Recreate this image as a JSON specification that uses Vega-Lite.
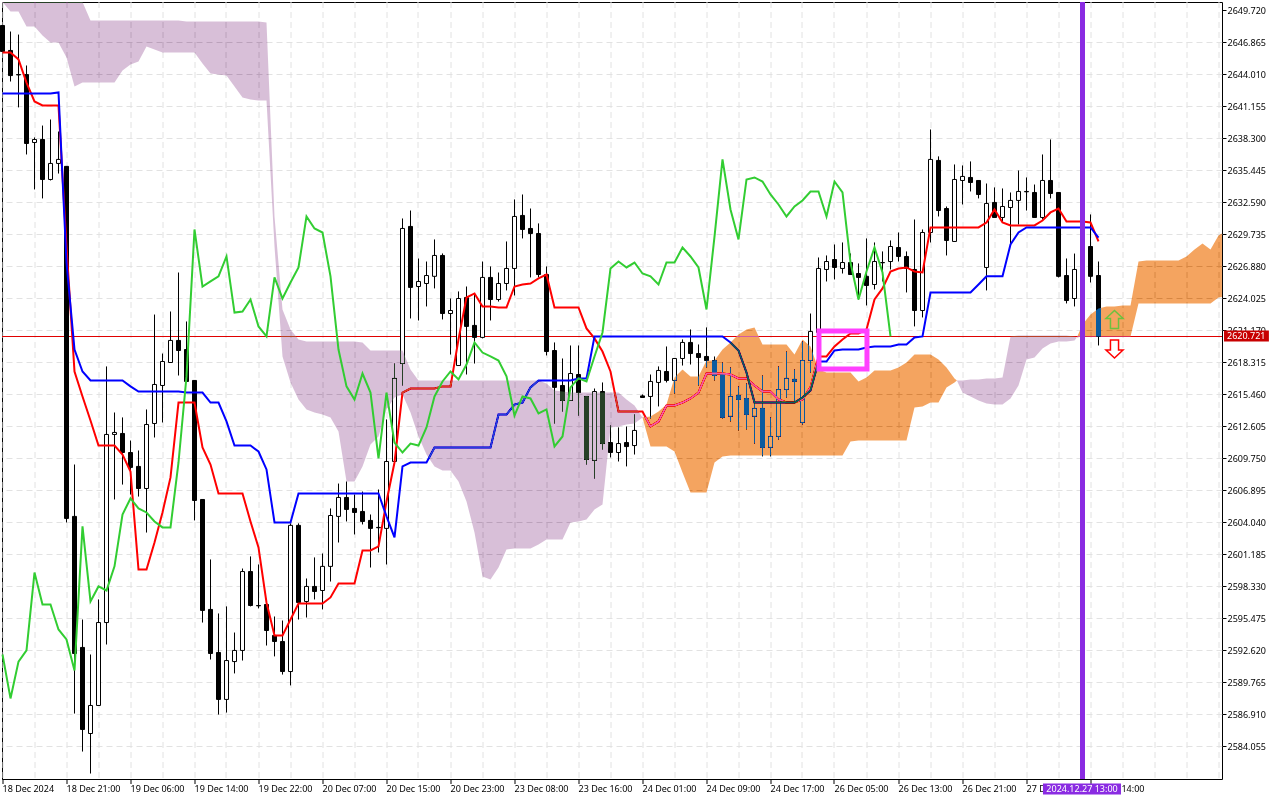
{"$schema":"https://vega.github.io/schema/vega-lite/v6.json","width":1220,"height":777,"autosize":{"type":"none"},"padding":{"left":2,"top":2,"right":58,"bottom":21},"background":"#ffffff",
"config":{"view":{"stroke":"#000000","strokeWidth":1},"axis":{"labelFont":"Noto Sans","labelFontSize":9,"labelColor":"#000000","title":null}},
"datasets":{
"bars":[
{"i":0,"o":2648.34,"h":2648.34,"l":2646.02,"c":2646.02,"t":2645.93,"k":2642.27,"g":2592.22},
{"i":1,"o":2646.11,"h":2647.80,"l":2643.34,"c":2643.87,"t":2645.93,"k":2642.27,"g":2588.30},
{"i":2,"o":2643.96,"h":2647.53,"l":2641.03,"c":2643.93,"t":2645.31,"k":2642.27,"g":2591.59},
{"i":3,"o":2643.96,"h":2644.77,"l":2636.83,"c":2637.81,"t":2643.25,"k":2642.27,"g":2592.58},
{"i":4,"o":2637.90,"h":2638.35,"l":2633.71,"c":2638.17,"t":2641.56,"k":2642.27,"g":2599.53},
{"i":5,"o":2638.17,"h":2639.41,"l":2632.91,"c":2634.60,"t":2641.20,"k":2642.27,"g":2596.68},
{"i":6,"o":2634.60,"h":2639.95,"l":2634.51,"c":2636.03,"t":2641.20,"k":2642.27,"g":2596.68},
{"i":7,"o":2636.03,"h":2638.88,"l":2635.13,"c":2636.39,"t":2641.20,"k":2642.36,"g":2594.45},
{"i":8,"o":2635.77,"h":2635.77,"l":2604.00,"c":2604.36,"t":2628.63,"k":2627.19,"g":2593.56},
{"i":9,"o":2604.54,"h":2609.17,"l":2586.95,"c":2592.31,"t":2617.47,"k":2619.43,"g":2590.79},
{"i":10,"o":2592.85,"h":2595.34,"l":2583.56,"c":2585.53,"t":2615.24,"k":2617.47,"g":2603.65},
{"i":11,"o":2585.17,"h":2592.22,"l":2581.60,"c":2587.67,"t":2613.10,"k":2616.67,"g":2596.95},
{"i":12,"o":2587.67,"h":2597.13,"l":2587.67,"c":2595.07,"t":2610.86,"k":2616.67,"g":2598.29},
{"i":13,"o":2595.07,"h":2617.92,"l":2593.11,"c":2611.85,"t":2610.86,"k":2616.67,"g":2597.93},
{"i":14,"o":2611.85,"h":2613.81,"l":2606.05,"c":2612.03,"t":2610.86,"k":2616.67,"g":2600.08},
{"i":15,"o":2611.94,"h":2613.37,"l":2607.38,"c":2610.24,"t":2610.06,"k":2616.67,"g":2604.71},
{"i":16,"o":2610.24,"h":2611.31,"l":2606.49,"c":2608.91,"t":2608.55,"k":2616.14,"g":2606.14},
{"i":17,"o":2609.00,"h":2610.42,"l":2606.31,"c":2607.03,"t":2599.80,"k":2615.68,"g":2605.25},
{"i":18,"o":2607.03,"h":2614.08,"l":2603.10,"c":2612.74,"t":2599.80,"k":2615.68,"g":2604.89},
{"i":19,"o":2612.83,"h":2622.55,"l":2611.58,"c":2616.31,"t":2602.21,"k":2615.68,"g":2604.09},
{"i":20,"o":2616.22,"h":2619.07,"l":2612.92,"c":2618.36,"t":2604.89,"k":2615.68,"g":2603.56},
{"i":21,"o":2618.27,"h":2622.82,"l":2618.27,"c":2620.24,"t":2608.02,"k":2615.68,"g":2603.56},
{"i":22,"o":2620.24,"h":2626.30,"l":2617.11,"c":2619.34,"t":2614.70,"k":2615.68,"g":2609.35},
{"i":23,"o":2619.43,"h":2621.93,"l":2616.58,"c":2616.58,"t":2614.70,"k":2615.59,"g":2617.03},
{"i":24,"o":2616.67,"h":2616.67,"l":2604.18,"c":2605.96,"t":2614.70,"k":2615.59,"g":2630.14},
{"i":25,"o":2606.05,"h":2606.05,"l":2595.07,"c":2596.15,"t":2610.69,"k":2615.59,"g":2625.05},
{"i":26,"o":2596.24,"h":2600.70,"l":2591.77,"c":2592.31,"t":2609.17,"k":2614.70,"g":2625.50},
{"i":27,"o":2592.40,"h":2595.88,"l":2586.86,"c":2588.21,"t":2606.58,"k":2614.70,"g":2625.96},
{"i":28,"o":2588.21,"h":2596.51,"l":2587.04,"c":2591.68,"t":2606.58,"k":2613.01,"g":2627.73},
{"i":29,"o":2591.59,"h":2594.18,"l":2590.53,"c":2592.58,"t":2606.58,"k":2610.86,"g":2622.73},
{"i":30,"o":2592.58,"h":2599.89,"l":2591.68,"c":2599.62,"t":2606.58,"k":2610.86,"g":2622.82},
{"i":31,"o":2599.62,"h":2600.97,"l":2596.51,"c":2596.59,"t":2604.09,"k":2610.86,"g":2623.89},
{"i":32,"o":2596.59,"h":2600.25,"l":2596.33,"c":2596.56,"t":2601.77,"k":2610.33,"g":2621.49},
{"i":33,"o":2596.68,"h":2596.68,"l":2593.02,"c":2594.36,"t":2596.86,"k":2608.73,"g":2620.60},
{"i":34,"o":2593.92,"h":2595.61,"l":2592.05,"c":2593.38,"t":2593.92,"k":2604.00,"g":2625.86},
{"i":35,"o":2593.38,"h":2595.25,"l":2590.43,"c":2590.70,"t":2593.92,"k":2604.00,"g":2623.98},
{"i":36,"o":2590.70,"h":2603.92,"l":2589.46,"c":2603.74,"t":2595.34,"k":2604.00,"g":2625.41},
{"i":37,"o":2603.74,"h":2603.92,"l":2595.34,"c":2596.86,"t":2596.77,"k":2606.58,"g":2626.75},
{"i":38,"o":2596.95,"h":2599.00,"l":2595.52,"c":2598.29,"t":2596.77,"k":2606.58,"g":2631.30},
{"i":39,"o":2598.29,"h":2600.88,"l":2597.13,"c":2597.84,"t":2596.77,"k":2606.58,"g":2630.23},
{"i":40,"o":2597.93,"h":2601.23,"l":2596.24,"c":2600.08,"t":2596.77,"k":2606.58,"g":2629.87},
{"i":41,"o":2600.08,"h":2605.25,"l":2598.73,"c":2604.62,"t":2597.31,"k":2606.58,"g":2625.96},
{"i":42,"o":2604.54,"h":2607.47,"l":2602.21,"c":2606.23,"t":2598.55,"k":2606.58,"g":2619.43},
{"i":43,"o":2606.23,"h":2607.65,"l":2604.09,"c":2605.16,"t":2598.55,"k":2606.58,"g":2616.14},
{"i":44,"o":2605.25,"h":2606.49,"l":2602.93,"c":2604.89,"t":2598.55,"k":2606.58,"g":2614.97},
{"i":45,"o":2604.98,"h":2606.76,"l":2603.82,"c":2604.09,"t":2601.50,"k":2606.58,"g":2617.29},
{"i":46,"o":2604.18,"h":2604.71,"l":2599.98,"c":2603.47,"t":2601.50,"k":2606.58,"g":2615.59},
{"i":47,"o":2603.56,"h":2606.94,"l":2601.32,"c":2603.53,"t":2601.86,"k":2606.58,"g":2609.71},
{"i":48,"o":2603.47,"h":2613.19,"l":2600.25,"c":2609.44,"t":2605.87,"k":2604.54,"g":2615.59},
{"i":49,"o":2609.44,"h":2618.18,"l":2609.62,"c":2616.85,"t":2609.35,"k":2602.66,"g":2611.13},
{"i":50,"o":2618.18,"h":2631.12,"l":2616.22,"c":2630.23,"t":2615.59,"k":2609.00,"g":2610.24},
{"i":51,"o":2630.41,"h":2631.83,"l":2622.20,"c":2624.97,"t":2615.95,"k":2609.35,"g":2611.04},
{"i":52,"o":2625.05,"h":2627.55,"l":2622.02,"c":2625.50,"t":2615.95,"k":2609.35,"g":2610.86},
{"i":53,"o":2625.32,"h":2627.28,"l":2623.27,"c":2626.03,"t":2615.95,"k":2609.35,"g":2612.48},
{"i":54,"o":2625.96,"h":2629.25,"l":2624.88,"c":2627.82,"t":2615.95,"k":2610.69,"g":2615.24},
{"i":55,"o":2627.82,"h":2628.00,"l":2622.11,"c":2622.64,"t":2616.14,"k":2610.69,"g":2616.58},
{"i":56,"o":2622.64,"h":2623.98,"l":2618.98,"c":2622.91,"t":2616.14,"k":2610.69,"g":2617.47},
{"i":57,"o":2618.00,"h":2624.61,"l":2618.00,"c":2623.98,"t":2620.33,"k":2610.69,"g":2616.76},
{"i":58,"o":2624.07,"h":2625.05,"l":2617.20,"c":2621.49,"t":2624.07,"k":2610.69,"g":2618.09},
{"i":59,"o":2621.58,"h":2624.34,"l":2618.18,"c":2620.51,"t":2624.43,"k":2610.69,"g":2620.06},
{"i":60,"o":2620.51,"h":2627.28,"l":2620.42,"c":2625.86,"t":2623.27,"k":2610.69,"g":2619.16},
{"i":61,"o":2625.86,"h":2626.84,"l":2622.02,"c":2623.89,"t":2623.27,"k":2610.69,"g":2618.81},
{"i":62,"o":2623.89,"h":2626.30,"l":2623.71,"c":2625.32,"t":2623.18,"k":2613.63,"g":2618.45},
{"i":63,"o":2625.32,"h":2629.07,"l":2624.70,"c":2626.66,"t":2623.18,"k":2613.63,"g":2617.03},
{"i":64,"o":2626.66,"h":2632.82,"l":2624.25,"c":2631.30,"t":2625.05,"k":2614.52,"g":2613.54},
{"i":65,"o":2631.39,"h":2633.26,"l":2629.34,"c":2630.14,"t":2625.23,"k":2614.70,"g":2615.24},
{"i":66,"o":2630.23,"h":2632.01,"l":2625.86,"c":2629.78,"t":2625.32,"k":2616.05,"g":2615.06},
{"i":67,"o":2629.78,"h":2630.68,"l":2625.86,"c":2626.12,"t":2625.77,"k":2616.67,"g":2613.72},
{"i":68,"o":2626.12,"h":2626.84,"l":2618.90,"c":2619.25,"t":2626.12,"k":2616.67,"g":2614.08},
{"i":69,"o":2619.34,"h":2620.06,"l":2612.83,"c":2616.05,"t":2623.18,"k":2616.67,"g":2610.78},
{"i":70,"o":2616.22,"h":2618.63,"l":2613.90,"c":2614.88,"t":2623.18,"k":2616.67,"g":2611.67},
{"i":71,"o":2614.88,"h":2619.79,"l":2614.88,"c":2617.29,"t":2623.18,"k":2616.67,"g":2616.05},
{"i":72,"o":2617.20,"h":2619.79,"l":2613.54,"c":2615.59,"t":2623.18,"k":2616.85,"g":2616.85},
{"i":73,"o":2615.24,"h":2615.24,"l":2609.17,"c":2609.62,"t":2621.31,"k":2616.85,"g":2616.58},
{"i":74,"o":2609.53,"h":2615.95,"l":2607.92,"c":2615.68,"t":2620.42,"k":2620.60,"g":2618.81},
{"i":75,"o":2615.68,"h":2616.49,"l":2610.51,"c":2611.04,"t":2619.25,"k":2620.60,"g":2620.95},
{"i":76,"o":2611.13,"h":2612.65,"l":2609.80,"c":2610.24,"t":2617.47,"k":2620.60,"g":2626.66},
{"i":77,"o":2610.24,"h":2612.48,"l":2609.44,"c":2611.04,"t":2613.90,"k":2620.60,"g":2627.28},
{"i":78,"o":2611.13,"h":2612.56,"l":2609.00,"c":2610.77,"t":2613.90,"k":2620.60,"g":2626.75},
{"i":79,"o":2610.86,"h":2613.63,"l":2610.06,"c":2612.21,"t":2613.90,"k":2620.60,"g":2627.19},
{"i":80,"o":2615.29,"h":2615.42,"l":2615.15,"c":2615.15,"t":2613.90,"k":2620.60,"g":2626.21},
{"i":81,"o":2615.24,"h":2617.20,"l":2613.28,"c":2616.58,"t":2612.57,"k":2620.60,"g":2625.96},
{"i":82,"o":2616.49,"h":2617.92,"l":2614.35,"c":2617.56,"t":2613.01,"k":2620.60,"g":2625.23},
{"i":83,"o":2617.47,"h":2619.70,"l":2616.49,"c":2616.67,"t":2614.43,"k":2620.60,"g":2627.19},
{"i":84,"o":2616.67,"h":2618.63,"l":2615.51,"c":2618.63,"t":2614.43,"k":2620.60,"g":2627.19},
{"i":85,"o":2618.63,"h":2620.33,"l":2618.00,"c":2620.06,"t":2614.70,"k":2620.60,"g":2628.53},
{"i":86,"o":2620.06,"h":2621.22,"l":2618.09,"c":2619.07,"t":2615.06,"k":2620.60,"g":2627.73},
{"i":87,"o":2619.07,"h":2619.88,"l":2616.22,"c":2618.72,"t":2615.59,"k":2620.60,"g":2626.75},
{"i":88,"o":2618.81,"h":2621.40,"l":2617.83,"c":2618.45,"t":2617.29,"k":2620.60,"g":2623.00},
{"i":89,"o":2618.45,"h":2618.81,"l":2616.67,"c":2617.11,"t":2617.29,"k":2620.60,"g":2629.51},
{"i":90,"o":2617.20,"h":2618.27,"l":2613.28,"c":2613.37,"t":2617.29,"k":2620.60,"g":2636.39},
{"i":91,"o":2613.46,"h":2617.83,"l":2613.01,"c":2615.24,"t":2617.20,"k":2620.06,"g":2631.92},
{"i":92,"o":2615.33,"h":2616.14,"l":2612.21,"c":2614.97,"t":2616.85,"k":2619.34,"g":2629.25},
{"i":93,"o":2615.06,"h":2616.40,"l":2612.30,"c":2613.63,"t":2616.85,"k":2617.38,"g":2634.60},
{"i":94,"o":2613.46,"h":2614.70,"l":2611.04,"c":2614.17,"t":2616.22,"k":2614.70,"g":2634.78},
{"i":95,"o":2614.17,"h":2617.11,"l":2609.89,"c":2610.69,"t":2615.68,"k":2614.70,"g":2634.42},
{"i":96,"o":2610.69,"h":2613.37,"l":2609.89,"c":2611.67,"t":2615.68,"k":2614.70,"g":2633.26},
{"i":97,"o":2611.67,"h":2617.92,"l":2611.40,"c":2615.86,"t":2614.97,"k":2614.70,"g":2632.37},
{"i":98,"o":2615.86,"h":2619.25,"l":2615.15,"c":2616.85,"t":2614.70,"k":2614.70,"g":2631.30},
{"i":99,"o":2616.76,"h":2617.65,"l":2614.70,"c":2616.58,"t":2614.70,"k":2614.70,"g":2632.19},
{"i":100,"o":2612.92,"h":2620.15,"l":2612.74,"c":2618.45,"t":2614.97,"k":2615.15,"g":2632.73},
{"i":101,"o":2618.45,"h":2622.64,"l":2617.38,"c":2621.04,"t":2616.05,"k":2615.77,"g":2633.53},
{"i":102,"o":2620.95,"h":2627.64,"l":2620.95,"c":2626.66,"t":2618.81,"k":2618.36,"g":2633.53},
{"i":103,"o":2626.57,"h":2627.82,"l":2625.50,"c":2627.28,"t":2618.81,"k":2618.36,"g":2631.30},
{"i":104,"o":2627.46,"h":2628.80,"l":2625.68,"c":2626.75,"t":2619.70,"k":2619.34,"g":2634.42},
{"i":105,"o":2626.66,"h":2628.98,"l":2626.21,"c":2627.19,"t":2620.33,"k":2619.43,"g":2633.44},
{"i":106,"o":2627.19,"h":2628.00,"l":2626.12,"c":2626.12,"t":2620.86,"k":2619.43,"g":2627.19},
{"i":107,"o":2626.21,"h":2627.11,"l":2623.89,"c":2625.86,"t":2620.86,"k":2619.43,"g":2623.89},
{"i":108,"o":2625.96,"h":2629.34,"l":2623.36,"c":2625.14,"t":2621.22,"k":2619.61,"g":2626.39},
{"i":109,"o":2625.23,"h":2628.98,"l":2624.79,"c":2627.28,"t":2623.89,"k":2619.70,"g":2628.53},
{"i":110,"o":2627.19,"h":2628.18,"l":2625.50,"c":2627.17,"t":2624.88,"k":2619.70,"g":2626.30},
{"i":111,"o":2627.28,"h":2629.16,"l":2626.57,"c":2628.62,"t":2626.39,"k":2619.70,"g":2620.60},
{"i":112,"o":2628.53,"h":2629.87,"l":2627.28,"c":2627.73,"t":2626.66,"k":2619.88},
{"i":113,"o":2627.73,"h":2628.18,"l":2624.52,"c":2626.66,"t":2626.75,"k":2619.88},
{"i":114,"o":2626.57,"h":2631.03,"l":2621.49,"c":2622.91,"t":2626.39,"k":2620.51},
{"i":115,"o":2622.91,"h":2630.14,"l":2622.29,"c":2629.87,"t":2626.30,"k":2620.60},
{"i":116,"o":2629.87,"h":2639.06,"l":2628.98,"c":2636.39,"t":2630.32,"k":2624.52},
{"i":117,"o":2636.30,"h":2636.66,"l":2631.30,"c":2631.83,"t":2630.32,"k":2624.52},
{"i":118,"o":2632.01,"h":2632.19,"l":2627.82,"c":2629.16,"t":2630.32,"k":2624.52},
{"i":119,"o":2629.07,"h":2635.94,"l":2629.07,"c":2634.60,"t":2630.32,"k":2624.52},
{"i":120,"o":2634.51,"h":2635.85,"l":2632.37,"c":2634.87,"t":2630.32,"k":2624.52},
{"i":121,"o":2634.78,"h":2636.21,"l":2633.53,"c":2634.33,"t":2630.32,"k":2624.52},
{"i":122,"o":2634.51,"h":2634.51,"l":2632.91,"c":2633.26,"t":2630.32,"k":2625.23},
{"i":123,"o":2626.75,"h":2634.24,"l":2624.70,"c":2632.46,"t":2630.76,"k":2625.96},
{"i":124,"o":2632.55,"h":2633.89,"l":2631.21,"c":2631.21,"t":2631.92,"k":2625.96},
{"i":125,"o":2631.21,"h":2633.80,"l":2630.85,"c":2632.19,"t":2630.76,"k":2625.96},
{"i":126,"o":2632.10,"h":2633.44,"l":2628.80,"c":2632.73,"t":2630.50,"k":2628.80},
{"i":127,"o":2632.73,"h":2635.40,"l":2630.58,"c":2633.53,"t":2630.50,"k":2629.87},
{"i":128,"o":2633.53,"h":2634.78,"l":2631.83,"c":2633.50,"t":2630.50,"k":2630.32},
{"i":129,"o":2633.44,"h":2634.15,"l":2631.21,"c":2631.21,"t":2630.50,"k":2630.32},
{"i":130,"o":2631.21,"h":2636.83,"l":2631.03,"c":2634.51,"t":2630.94,"k":2630.32},
{"i":131,"o":2634.51,"h":2638.17,"l":2632.91,"c":2633.35,"t":2631.66,"k":2630.32},
{"i":132,"o":2633.44,"h":2633.44,"l":2625.86,"c":2625.96,"t":2632.01,"k":2630.32},
{"i":133,"o":2626.03,"h":2627.55,"l":2623.54,"c":2623.80,"t":2630.85,"k":2630.32},
{"i":134,"o":2623.98,"h":2627.99,"l":2623.27,"c":2626.57,"t":2630.85,"k":2630.32},
{"i":135,"o":2627.91,"h":2628.36,"l":2626.12,"c":2626.57,"t":2630.85,"k":2630.32},
{"i":136,"o":2628.62,"h":2631.48,"l":2625.41,"c":2625.96,"t":2630.76,"k":2630.32},
{"i":137,"o":2626.03,"h":2627.28,"l":2619.79,"c":2620.60,"t":2629.07,"k":2629.42}
],
"cloud":[
{"s":1,"z":"p","i":0,"a":2650.43,"b":2650.43},{"s":1,"z":"p","i":1,"a":2650.43,"b":2649.59},{"s":1,"z":"p","i":2,"a":2650.43,"b":2649.59},{"s":1,"z":"p","i":3,"a":2650.43,"b":2648.25},{"s":1,"z":"p","i":4,"a":2650.43,"b":2648.25},{"s":1,"z":"p","i":5,"a":2650.43,"b":2647.45},{"s":1,"z":"p","i":6,"a":2650.43,"b":2646.82},{"s":1,"z":"p","i":7,"a":2650.43,"b":2646.82},{"s":1,"z":"p","i":8,"a":2650.43,"b":2645.49},{"s":1,"z":"p","i":9,"a":2650.43,"b":2642.90},{"s":1,"z":"p","i":10,"a":2650.43,"b":2643.25},{"s":1,"z":"p","i":11,"a":2648.79,"b":2643.25},{"s":1,"z":"p","i":12,"a":2648.79,"b":2643.25},{"s":1,"z":"p","i":13,"a":2648.79,"b":2643.25},{"s":1,"z":"p","i":14,"a":2648.79,"b":2643.25},{"s":1,"z":"p","i":15,"a":2648.79,"b":2644.33},{"s":1,"z":"p","i":16,"a":2648.79,"b":2644.86},{"s":1,"z":"p","i":17,"a":2648.79,"b":2645.13},{"s":1,"z":"p","i":18,"a":2648.79,"b":2646.47},{"s":1,"z":"p","i":19,"a":2648.79,"b":2646.20},{"s":1,"z":"p","i":20,"a":2648.79,"b":2645.93},{"s":1,"z":"p","i":21,"a":2648.79,"b":2645.93},{"s":1,"z":"p","i":22,"a":2648.79,"b":2645.93},{"s":1,"z":"p","i":23,"a":2648.70,"b":2645.93},{"s":1,"z":"p","i":24,"a":2648.70,"b":2645.93},{"s":1,"z":"p","i":25,"a":2648.70,"b":2644.95},{"s":1,"z":"p","i":26,"a":2648.70,"b":2644.06},{"s":1,"z":"p","i":27,"a":2648.70,"b":2643.97},{"s":1,"z":"p","i":28,"a":2648.70,"b":2643.87},{"s":1,"z":"p","i":29,"a":2648.70,"b":2642.90},{"s":1,"z":"p","i":30,"a":2648.70,"b":2641.92},{"s":1,"z":"p","i":31,"a":2648.70,"b":2641.74},{"s":1,"z":"p","i":32,"a":2648.70,"b":2641.65},{"s":1,"z":"p","i":33,"a":2648.61,"b":2641.65},{"s":1,"z":"p","i":34,"a":2631.30,"b":2628.62},{"s":1,"z":"p","i":35,"a":2623.00,"b":2618.81},{"s":1,"z":"p","i":36,"a":2621.22,"b":2616.49},{"s":1,"z":"p","i":37,"a":2620.33,"b":2614.97},{"s":1,"z":"p","i":38,"a":2620.15,"b":2614.08},{"s":1,"z":"p","i":39,"a":2620.15,"b":2613.81},{"s":1,"z":"p","i":40,"a":2620.15,"b":2613.63},{"s":1,"z":"p","i":41,"a":2620.15,"b":2613.37},{"s":1,"z":"p","i":42,"a":2620.15,"b":2612.12},{"s":1,"z":"p","i":43,"a":2620.15,"b":2607.65},{"s":1,"z":"p","i":44,"a":2620.15,"b":2607.65},{"s":1,"z":"p","i":45,"a":2620.06,"b":2609.00},{"s":1,"z":"p","i":46,"a":2619.34,"b":2610.95},{"s":1,"z":"p","i":47,"a":2619.34,"b":2611.67},{"s":1,"z":"p","i":48,"a":2619.34,"b":2614.08},{"s":1,"z":"p","i":49,"a":2619.34,"b":2615.15},{"s":1,"z":"p","i":50,"a":2619.34,"b":2615.42},{"s":1,"z":"p","i":51,"a":2617.65,"b":2613.81},{"s":1,"z":"p","i":52,"a":2616.67,"b":2611.67},{"s":1,"z":"p","i":53,"a":2616.67,"b":2610.06},{"s":1,"z":"p","i":54,"a":2616.67,"b":2609.00},{"s":1,"z":"p","i":55,"a":2616.67,"b":2608.64},{"s":1,"z":"p","i":56,"a":2616.67,"b":2608.64},{"s":1,"z":"p","i":57,"a":2616.67,"b":2607.65},{"s":1,"z":"p","i":58,"a":2616.67,"b":2605.87},{"s":1,"z":"p","i":59,"a":2616.67,"b":2603.10},{"s":1,"z":"p","i":60,"a":2616.67,"b":2599.18},{"s":1,"z":"p","i":61,"a":2616.67,"b":2598.91},{"s":1,"z":"p","i":62,"a":2616.67,"b":2599.98},{"s":1,"z":"p","i":63,"a":2616.67,"b":2601.59},{"s":1,"z":"p","i":64,"a":2616.67,"b":2601.68},{"s":1,"z":"p","i":65,"a":2616.67,"b":2601.68},{"s":1,"z":"p","i":66,"a":2616.67,"b":2601.68},{"s":1,"z":"p","i":67,"a":2616.67,"b":2602.03},{"s":1,"z":"p","i":68,"a":2616.40,"b":2602.48},{"s":1,"z":"p","i":69,"a":2615.77,"b":2602.48},{"s":1,"z":"p","i":70,"a":2615.68,"b":2602.48},{"s":1,"z":"p","i":71,"a":2615.59,"b":2604.00},{"s":1,"z":"p","i":72,"a":2615.59,"b":2604.09},{"s":1,"z":"p","i":73,"a":2615.59,"b":2604.27},{"s":1,"z":"p","i":74,"a":2615.59,"b":2605.16},{"s":1,"z":"p","i":75,"a":2615.59,"b":2605.60},{"s":1,"z":"p","i":76,"a":2615.59,"b":2612.48},{"s":1,"z":"p","i":77,"a":2615.59,"b":2612.56},{"s":1,"z":"p","i":78,"a":2614.97,"b":2612.74},{"s":1,"z":"p","i":79,"a":2614.43,"b":2612.83},{"s":1,"z":"p","i":80,"a":2613.37,"b":2613.37},
{"s":2,"z":"o","i":80,"a":2613.37,"b":2613.37},{"s":2,"z":"o","i":81,"a":2613.46,"b":2610.78},{"s":2,"z":"o","i":82,"a":2613.90,"b":2610.78},{"s":2,"z":"o","i":83,"a":2614.52,"b":2610.78},{"s":2,"z":"o","i":84,"a":2616.94,"b":2610.33},{"s":2,"z":"o","i":85,"a":2617.65,"b":2608.46},{"s":2,"z":"o","i":86,"a":2617.02,"b":2606.67},{"s":2,"z":"o","i":87,"a":2617.02,"b":2606.67},{"s":2,"z":"o","i":88,"a":2618.45,"b":2606.67},{"s":2,"z":"o","i":89,"a":2618.45,"b":2609.35},{"s":2,"z":"o","i":90,"a":2619.43,"b":2609.89},{"s":2,"z":"o","i":91,"a":2620.06,"b":2609.98},{"s":2,"z":"o","i":92,"a":2620.77,"b":2609.98},{"s":2,"z":"o","i":93,"a":2621.22,"b":2609.98},{"s":2,"z":"o","i":94,"a":2621.40,"b":2609.98},{"s":2,"z":"o","i":95,"a":2619.88,"b":2609.98},{"s":2,"z":"o","i":96,"a":2619.88,"b":2609.98},{"s":2,"z":"o","i":97,"a":2619.88,"b":2609.98},{"s":2,"z":"o","i":98,"a":2619.88,"b":2609.98},{"s":2,"z":"o","i":99,"a":2618.98,"b":2609.98},{"s":2,"z":"o","i":100,"a":2620.33,"b":2609.98},{"s":2,"z":"o","i":101,"a":2619.70,"b":2609.98},{"s":2,"z":"o","i":102,"a":2617.65,"b":2609.98},{"s":2,"z":"o","i":103,"a":2617.38,"b":2609.98},{"s":2,"z":"o","i":104,"a":2617.38,"b":2609.98},{"s":2,"z":"o","i":105,"a":2617.38,"b":2609.98},{"s":2,"z":"o","i":106,"a":2617.38,"b":2611.22},{"s":2,"z":"o","i":107,"a":2616.58,"b":2611.31},{"s":2,"z":"o","i":108,"a":2616.94,"b":2611.31},{"s":2,"z":"o","i":109,"a":2617.56,"b":2611.31},{"s":2,"z":"o","i":110,"a":2617.56,"b":2611.31},{"s":2,"z":"o","i":111,"a":2617.56,"b":2611.31},{"s":2,"z":"o","i":112,"a":2617.83,"b":2611.31},{"s":2,"z":"o","i":113,"a":2618.27,"b":2611.31},{"s":2,"z":"o","i":114,"a":2618.98,"b":2614.26},{"s":2,"z":"o","i":115,"a":2618.98,"b":2614.35},{"s":2,"z":"o","i":116,"a":2618.98,"b":2614.70},{"s":2,"z":"o","i":117,"a":2618.54,"b":2614.70},{"s":2,"z":"o","i":118,"a":2617.83,"b":2616.05},{"s":2,"z":"o","i":119,"a":2616.85,"b":2616.49},{"s":2,"z":"o","i":119.3,"a":2616.67,"b":2616.67},
{"s":3,"z":"p","i":119.3,"a":2616.67,"b":2616.67},{"s":3,"z":"p","i":120,"a":2616.67,"b":2615.59},{"s":3,"z":"p","i":121,"a":2616.76,"b":2615.24},{"s":3,"z":"p","i":122,"a":2616.76,"b":2614.88},{"s":3,"z":"p","i":123,"a":2616.85,"b":2614.61},{"s":3,"z":"p","i":124,"a":2616.85,"b":2614.52},{"s":3,"z":"p","i":125,"a":2616.94,"b":2614.52},{"s":3,"z":"p","i":126,"a":2620.60,"b":2615.06},{"s":3,"z":"p","i":127,"a":2620.68,"b":2616.22},{"s":3,"z":"p","i":128,"a":2620.68,"b":2618.54},{"s":3,"z":"p","i":129,"a":2620.68,"b":2618.72},{"s":3,"z":"p","i":130,"a":2620.68,"b":2619.52},{"s":3,"z":"p","i":131,"a":2620.68,"b":2619.97},{"s":3,"z":"p","i":132,"a":2620.68,"b":2620.15},{"s":3,"z":"p","i":133,"a":2620.68,"b":2620.15},{"s":3,"z":"p","i":134,"a":2620.60,"b":2620.24},{"s":3,"z":"p","i":134.3,"a":2620.51,"b":2620.51},
{"s":4,"z":"o","i":134.3,"a":2620.51,"b":2620.51},{"s":4,"z":"o","i":135,"a":2621.66,"b":2620.60},{"s":4,"z":"o","i":136,"a":2622.56,"b":2620.60},{"s":4,"z":"o","i":137,"a":2623.09,"b":2620.60},{"s":4,"z":"o","i":138,"a":2623.27,"b":2620.60},{"s":4,"z":"o","i":139,"a":2623.27,"b":2620.60},{"s":4,"z":"o","i":140,"a":2623.36,"b":2620.60},{"s":4,"z":"o","i":141,"a":2623.36,"b":2620.60},{"s":4,"z":"o","i":142,"a":2627.28,"b":2623.54},{"s":4,"z":"o","i":143,"a":2627.37,"b":2623.54},{"s":4,"z":"o","i":144,"a":2627.37,"b":2623.54},{"s":4,"z":"o","i":145,"a":2627.37,"b":2623.54},{"s":4,"z":"o","i":146,"a":2627.37,"b":2623.54},{"s":4,"z":"o","i":147,"a":2627.37,"b":2623.54},{"s":4,"z":"o","i":148,"a":2627.73,"b":2623.54},{"s":4,"z":"o","i":149,"a":2628.36,"b":2623.54},{"s":4,"z":"o","i":150,"a":2628.89,"b":2623.54},{"s":4,"z":"o","i":151,"a":2628.36,"b":2623.54},{"s":4,"z":"o","i":152,"a":2629.60,"b":2624.07},{"s":4,"z":"o","i":152.43,"a":2629.78,"b":2624.12}
]},
"layer":[
{"data":{"values":[{"i":0,"p":2620.59}]},"mark":{"type":"rule","opacity":0},
 "encoding":{
  "x":{"field":"i","type":"quantitative","scale":{"domain":[-0.0625,152.4375],"nice":false,"zero":false,"padding":0},
   "axis":{"values":[0,4,8,12,16,20,24,28,32,36,40,44,48,52,56,60,64,68,72,76,80,84,88,92,96,100,104,108,112,116,120,124,128,132,136,140,144,148,152],"tickCount":60,"translate":0,"domain":false,"grid":true,"gridColor":"#e2e2e2","gridDash":[6,4],"gridWidth":1,"tickSize":5,"tickColor":"#000000","tickOpacity":{"condition":{"test":"datum.value % 8 === 0 && datum.value <= 136","value":1},"value":0},"labelAlign":"left","labelBaseline":"top","labelPadding":1,"labelOverlap":false,"labelBound":false,"labelFlush":false,"labelAngle":0,
    "labelExpr":"datum.value % 8 === 0 && datum.value <= 136 ? ['18 Dec 2024','18 Dec 21:00','19 Dec 06:00','19 Dec 14:00','19 Dec 22:00','20 Dec 07:00','20 Dec 15:00','20 Dec 23:00','23 Dec 08:00','23 Dec 16:00','24 Dec 01:00','24 Dec 09:00','24 Dec 17:00','26 Dec 05:00','26 Dec 13:00','26 Dec 21:00','27 Dec 05:00','27 Dec 14:00'][datum.value/8] : ''"}},
  "y":{"field":"p","type":"quantitative","scale":{"domain":[2581.111,2650.434],"nice":false,"zero":false},
   "axis":{"orient":"right","values":[2649.72,2646.865,2644.01,2641.155,2638.3,2635.445,2632.59,2629.735,2626.88,2624.025,2621.17,2618.315,2615.46,2612.605,2609.75,2606.895,2604.04,2601.185,2598.33,2595.475,2592.62,2589.765,2586.91,2584.055],"tickCount":40,"format":".3f","domain":false,"grid":true,"gridColor":"#e2e2e2","gridDash":[6,4],"gridOpacity":{"condition":{"test":"datum.value < 2649","value":1},"value":0},"tickSize":4,"tickColor":"#000000","labelPadding":1,"labelOverlap":false,"labelBound":false,"labelFlush":false}}}},
{"data":{"values":[{"p":2620.59}]},"mark":{"type":"rule","stroke":"#E00000","strokeWidth":1},"encoding":{"y":{"field":"p","type":"quantitative"}}},
{"data":{"name":"bars"},"mark":{"type":"rule","stroke":"#000000","strokeWidth":1},"encoding":{"x":{"field":"i","type":"quantitative"},"y":{"field":"h","type":"quantitative"},"y2":{"field":"l"}}},
{"data":{"name":"bars"},"mark":{"type":"bar","orient":"vertical","size":4,"stroke":"#000000","strokeWidth":1},"encoding":{"x":{"field":"i","type":"quantitative"},"y":{"field":"o","type":"quantitative"},"y2":{"field":"c"},"fill":{"condition":{"test":"datum.c >= datum.o","value":"#ffffff"},"value":"#000000"}}},
{"data":{"name":"bars"},"mark":{"type":"line","stroke":"#FF0000","strokeWidth":2},"encoding":{"x":{"field":"i","type":"quantitative"},"y":{"field":"t","type":"quantitative"}}},
{"data":{"name":"bars"},"mark":{"type":"line","stroke":"#0000FF","strokeWidth":2},"encoding":{"x":{"field":"i","type":"quantitative"},"y":{"field":"k","type":"quantitative"}}},
{"data":{"name":"cloud"},"mark":{"type":"area","blend":"difference"},"encoding":{"x":{"field":"i","type":"quantitative"},"y":{"field":"a","type":"quantitative"},"y2":{"field":"b"},"detail":{"field":"s","type":"nominal"},"fill":{"field":"z","type":"nominal","legend":null,"scale":{"domain":["o","p"],"range":["#0B5B9F","#274027"]}}}},
{"data":{"name":"bars"},"mark":{"type":"line","stroke":"#32CD32","strokeWidth":2},"encoding":{"x":{"field":"i","type":"quantitative"},"y":{"field":"g","type":"quantitative"}}},
{"data":{"values":[{"i":102.06,"i2":108.06,"p":2621.08,"p2":2617.69}]},"mark":{"type":"rect","fill":null,"stroke":"#FF40FF","strokeWidth":5},"encoding":{"x":{"field":"i","type":"quantitative"},"x2":{"field":"i2"},"y":{"field":"p","type":"quantitative"},"y2":{"field":"p2"}}},
{"data":{"values":[{"i":135}]},"mark":{"type":"rule","stroke":"#8A2BE2","strokeWidth":5},"encoding":{"x":{"field":"i","type":"quantitative"}}},
{"data":{"values":[{"i":139,"p":2622.11,"d":"up"}]},"mark":{"type":"point","filled":false,"size":324,"stroke":"#32CD32","strokeWidth":1.5,"fill":null,"shape":"M0,-1L0.95,-0.1L0.45,-0.1L0.45,1L-0.45,1L-0.45,-0.1L-0.95,-0.1Z"},"encoding":{"x":{"field":"i","type":"quantitative"},"y":{"field":"p","type":"quantitative"}}},
{"data":{"values":[{"i":139,"p":2619.47,"d":"down"}]},"mark":{"type":"point","filled":false,"size":324,"stroke":"#FF0000","strokeWidth":1.5,"fill":"#ffffff","fillOpacity":1,"shape":"M0,1L0.95,0.1L0.45,0.1L0.45,-1L-0.45,-1L-0.45,0.1L-0.95,0.1Z"},"encoding":{"x":{"field":"i","type":"quantitative"},"y":{"field":"p","type":"quantitative"}}},
{"data":{"values":[{"i":152.69,"i2":158.3,"p":2621.13,"p2":2620.15}]},"mark":{"type":"rect","fill":"#C80000"},"encoding":{"x":{"field":"i","type":"quantitative"},"x2":{"field":"i2"},"y":{"field":"p","type":"quantitative"},"y2":{"field":"p2"}}},
{"data":{"values":[{"i":153.06,"p":2620.66,"label":"2620.721"}]},"mark":{"type":"text","align":"left","baseline":"middle","color":"#ffffff","font":"Noto Sans","fontSize":9},"encoding":{"x":{"field":"i","type":"quantitative"},"y":{"field":"p","type":"quantitative"},"text":{"field":"label"}}},
{"data":{"values":[{"i":130.06,"i2":139.81,"p":2580.71,"p2":2579.73}]},"mark":{"type":"rect","fill":"#8A2BE2"},"encoding":{"x":{"field":"i","type":"quantitative"},"x2":{"field":"i2"},"y":{"field":"p","type":"quantitative"},"y2":{"field":"p2"}}},
{"data":{"values":[{"i":134.94,"p":2580.22,"label":"2024.12.27 13:00"}]},"mark":{"type":"text","align":"center","baseline":"middle","color":"#ffffff","font":"Noto Sans","fontSize":9},"encoding":{"x":{"field":"i","type":"quantitative"},"y":{"field":"p","type":"quantitative"},"text":{"field":"label"}}}
]}
